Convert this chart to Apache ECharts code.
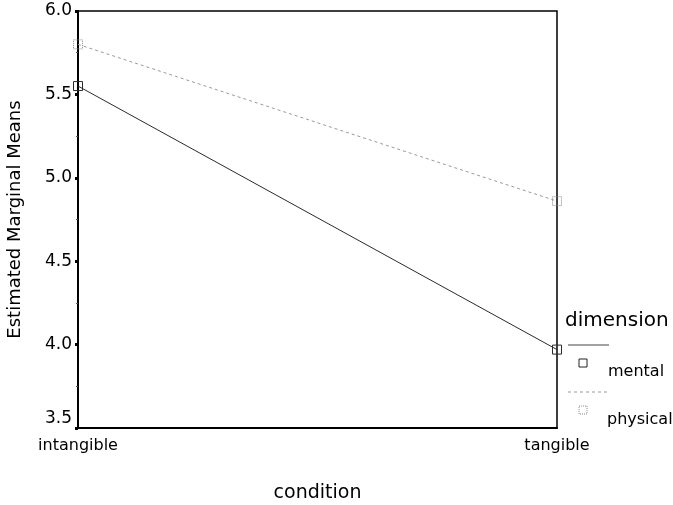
<!DOCTYPE html>
<html>
<head>
<meta charset="utf-8">
<script src="https://cdn.jsdelivr.net/npm/echarts@6/dist/echarts.min.js"></script>
<style>
html,body{margin:0;padding:0;background:#fff;}
#c{width:673px;height:505px;}
</style>
</head>
<body>
<div id="c"></div>
<script>
const categories = ['intangible', 'tangible'];
const seriesNames = ['mental', 'physical'];
const mentalValues = [5.55, 3.97];
const physicalValues = [5.80, 4.86];
const legendTitle = 'dimension';
const xTitle = 'condition';
const yTitle = 'Estimated Marginal Means';
const yMin = 3.5, yMax = 6.0, yStep = 0.5;

const FONT = '"DejaVu Sans", "Liberation Sans", Arial, sans-serif';
const chart = echarts.init(document.getElementById('c'), null, {renderer: 'canvas'});

const option = {
  backgroundColor: '#fff',
  animation: false,
  textStyle: {fontFamily: FONT},
  grid: {left: 78, right: 116, top: 11, bottom: 77, outerBoundsMode: 'none', containLabel: false, show: true, borderColor: '#000', borderWidth: 1.5, backgroundColor: 'transparent'},
  xAxis: {
    type: 'category',
    data: categories,
    boundaryGap: false,
    name: xTitle,
    nameLocation: 'middle',
    nameGap: 56,
    nameTextStyle: {fontSize: 19, color: '#000', fontFamily: FONT},
    axisLine: {lineStyle: {color: '#000', width: 2}},
    axisTick: {show: false},
    axisLabel: {fontSize: 16, color: '#000', margin: 10, fontFamily: FONT},
    splitLine: {show: false}
  },
  yAxis: {
    type: 'value',
    min: yMin,
    max: yMax,
    interval: yStep,
    name: yTitle,
    nameLocation: 'middle',
    nameGap: 54,
    nameTextStyle: {fontSize: 18, color: '#000', fontFamily: FONT},
    axisLine: {show: true, lineStyle: {color: '#000', width: 2}},
    axisTick: {show: true, length: 3, lineStyle: {color: '#000', width: 3}},
    minorTick: {show: true, splitNumber: 2, length: 2, lineStyle: {color: '#555', width: 1}},
    axisLabel: {
      fontSize: 17, color: '#000', margin: 6, fontFamily: FONT,
      formatter: v => (Math.abs(v - yMin) < 1e-9 ? '{lo|' + v.toFixed(1) + '}' : v.toFixed(1)),
      rich: {lo: {fontSize: 17, color: '#000', fontFamily: FONT, padding: [0, 0, 18, 0]}}
    },
    splitLine: {show: false}
  },
  series: [
    {
      name: seriesNames[0],
      type: 'line',
      data: mentalValues,
      symbol: 'rect',
      symbolSize: 9,
      lineStyle: {color: '#2a2a2a', width: 1},
      itemStyle: {color: 'rgba(255,255,255,0)', borderColor: '#2a2a2a', borderWidth: 1},
      z: 3
    },
    {
      name: seriesNames[1],
      type: 'line',
      data: physicalValues,
      symbol: 'rect',
      symbolSize: 9,
      lineStyle: {color: '#9a9a9a', width: 1, type: [3, 3]},
      itemStyle: {color: 'rgba(255,255,255,0)', borderColor: '#8a8a8a', borderWidth: 1, borderType: 'dotted'},
      z: 2
    }
  ],
  graphic: [
    {type: 'text', left: 565, top: 311, style: {text: legendTitle, font: '20px ' + FONT, fill: '#000'}},
    {type: 'line', shape: {x1: 568, y1: 345, x2: 609, y2: 345}, style: {stroke: '#444', lineWidth: 1}},
    {type: 'rect', shape: {x: 579, y: 359, width: 8, height: 8}, style: {fill: 'none', stroke: '#222', lineWidth: 1}},
    {type: 'text', left: 608, top: 364, style: {text: seriesNames[0], font: '16px ' + FONT, fill: '#000'}},
    {type: 'line', shape: {x1: 568, y1: 392, x2: 609, y2: 392}, style: {stroke: '#9a9a9a', lineWidth: 1, lineDash: [3, 3]}},
    {type: 'rect', shape: {x: 579, y: 406, width: 8, height: 8}, style: {fill: 'none', stroke: '#8a8a8a', lineWidth: 1, lineDash: [1, 1]}},
    {type: 'text', left: 607, top: 412, style: {text: seriesNames[1], font: '16px ' + FONT, fill: '#000'}}
  ]
};
chart.setOption(option);
</script>
</body>
</html>
